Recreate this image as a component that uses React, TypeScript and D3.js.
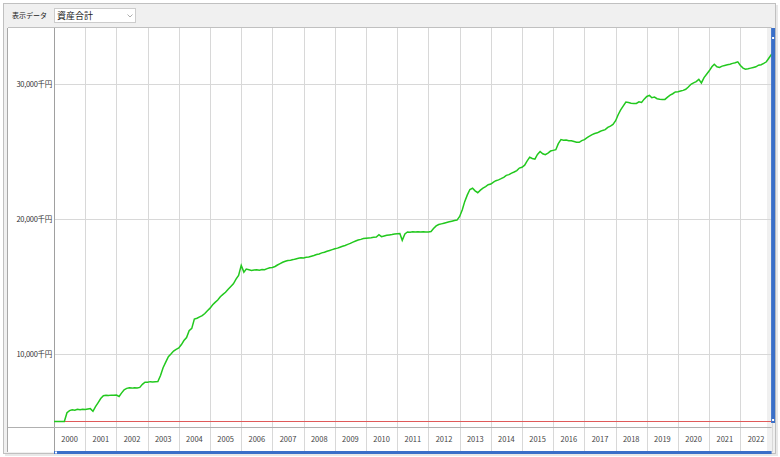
import * as d3 from "d3";
import React from "react";

// 年ラベル
const years = [
  "2000", "2001", "2002", "2003", "2004", "2005", "2006", "2007",
  "2008", "2009", "2010", "2011", "2012", "2013", "2014", "2015",
  "2016", "2017", "2018", "2019", "2020", "2021", "2022",
];

// Y軸の目盛り (千円)
const yTicks = [10000, 20000, 30000];

// 元本ライン (千円)
const principal = 5000;

// 月末の資産合計 (千円) 2000-01 ～ 2023-01
const assets = [
  5000, 5000, 5000, 5000, 5000, 5650, 5800, 5870, 5830, 5900, 5860, 5900, // 2000
  5880, 5920, 5950, 5750, 6100, 6400, 6700, 6900, 6940, 6920, 6950, 6940, // 2001
  6960, 6850, 7100, 7350, 7450, 7490, 7470, 7500, 7480, 7520, 7750, 7910, // 2002
  7900, 7950, 7920, 7940, 7950, 8400, 8980, 9400, 9800, 10000, 10220, 10350, // 2003
  10450, 10700, 11000, 11220, 11720, 11900, 12590, 12650, 12750, 12840, 13000, 13210, // 2004
  13400, 13650, 13830, 14000, 14250, 14420, 14580, 14800, 15000, 15200, 15550, 15820, // 2005
  16570, 16070, 16300, 16250, 16200, 16230, 16250, 16220, 16260, 16250, 16330, 16400, // 2006
  16420, 16490, 16600, 16700, 16800, 16880, 16940, 16960, 17000, 17050, 17100, 17140, // 2007
  17120, 17170, 17190, 17250, 17300, 17380, 17420, 17500, 17550, 17620, 17680, 17740, // 2008
  17800, 17850, 17920, 17990, 18050, 18130, 18200, 18300, 18380, 18450, 18500, 18560, // 2009
  18580, 18600, 18620, 18650, 18680, 18850, 18700, 18750, 18800, 18830, 18860, 18900, // 2010
  18920, 18930, 18430, 18900, 19050, 19030, 19060, 19040, 19070, 19050, 19060, 19040, // 2011
  19050, 19080, 19300, 19500, 19600, 19650, 19700, 19750, 19800, 19850, 19900, 19930, // 2012
  20200, 20700, 21300, 21800, 22200, 22290, 22100, 21960, 22150, 22300, 22410, 22550, // 2013
  22600, 22750, 22850, 22910, 23000, 23100, 23250, 23300, 23410, 23500, 23600, 23790, // 2014
  23850, 24000, 24300, 24600, 24500, 24450, 24800, 25020, 24850, 24780, 24900, 25050, // 2015
  25100, 25150, 25600, 25900, 25850, 25870, 25820, 25820, 25760, 25700, 25700, 25820, // 2016
  25900, 26050, 26150, 26270, 26350, 26400, 26500, 26580, 26640, 26800, 26900, 27020, // 2017
  27300, 27760, 28100, 28400, 28680, 28650, 28600, 28580, 28580, 28700, 28650, 28900, // 2018
  29100, 29180, 29000, 29050, 28930, 28900, 28880, 28880, 29050, 29200, 29300, 29430, // 2019
  29450, 29500, 29550, 29630, 29800, 30000, 30100, 30200, 30370, 30100, 30500, 30750, // 2020
  31000, 31300, 31490, 31300, 31250, 31350, 31400, 31450, 31490, 31550, 31600, 31670, // 2021
  31400, 31200, 31120, 31150, 31200, 31250, 31300, 31420, 31450, 31550, 31670, 31950, // 2022
  32240, // 2023-01
];

const FONT = "'Noto Sans CJK JP', 'Noto Sans', sans-serif";

export default function App() {
  const ref = React.useRef<SVGSVGElement>(null);

  React.useEffect(() => {
    if (!ref.current) return;
    const svg = d3.select(ref.current);
    svg.selectAll("*").remove();

    const W = 780;
    const H = 457;
    const left = 54;
    const right = 771.6;
    const top = 28;
    const plotBottom = 427;
    const bottom = 452;

    const months = d3.timeMonth.range(new Date(2000, 0, 1), new Date(2023, 1, 1));
    const data = months.map((d, i) => ({ date: d, value: assets[i] }));

    const x = d3
      .scaleTime()
      .domain([new Date(2000, 0, 1), new Date(2023, 0, 1)])
      .range([left, right]);

    const y = d3.scaleLinear().domain([10000, 30000]).range([354, 84.3]);

    // 背景
    svg.append("rect").attr("width", W).attr("height", H).attr("fill", "#ffffff");

    // ウィンドウの影
    svg.append("rect").attr("x", 5).attr("y", 5).attr("width", 773).attr("height", 451).attr("fill", "#e8e8e8");
    // ウィンドウ本体
    svg
      .append("rect")
      .attr("x", 3.5)
      .attr("y", 3.5)
      .attr("width", 772)
      .attr("height", 450)
      .attr("fill", "#f0f0f0")
      .attr("stroke", "#c0c0c0");

    // ツールバー
    svg
      .append("text")
      .attr("x", 12)
      .attr("y", 18)
      .attr("font-family", FONT)
      .attr("font-size", 7)
      .attr("fill", "#222")
      .text("表示データ");

    svg
      .append("rect")
      .attr("x", 54.5)
      .attr("y", 8.5)
      .attr("width", 81)
      .attr("height", 14)
      .attr("fill", "#ffffff")
      .attr("stroke", "#cccccc");
    svg
      .append("text")
      .attr("x", 57)
      .attr("y", 19)
      .attr("font-family", FONT)
      .attr("font-size", 9)
      .attr("fill", "#222")
      .text("資産合計");
    svg
      .append("path")
      .attr("d", "M127.5,14.5 L130,17 L132.5,14.5")
      .attr("fill", "none")
      .attr("stroke", "#999")
      .attr("stroke-width", 0.8);

    // チャート領域
    svg
      .append("rect")
      .attr("x", 8)
      .attr("y", top)
      .attr("width", 767 - 8)
      .attr("height", bottom - top)
      .attr("fill", "#ffffff");
    svg.append("line").attr("x1", 7.5).attr("x2", 7.5).attr("y1", top).attr("y2", bottom).attr("stroke", "#a8a8a8");
    svg.append("line").attr("x1", 8).attr("x2", right).attr("y1", top - 0.5).attr("y2", top - 0.5).attr("stroke", "#c0c0c0");

    // 縦グリッド (年区切り)
    const bounds = d3.range(years.length + 1).map((i) => new Date(2000 + i, 0, 1));
    svg
      .append("g")
      .selectAll("line")
      .data(bounds.slice(1))
      .enter()
      .append("line")
      .attr("x1", (d) => Math.round(x(d)) + 0.5)
      .attr("x2", (d) => Math.round(x(d)) + 0.5)
      .attr("y1", top)
      .attr("y2", bottom)
      .attr("stroke", "#d8d8d8");

    // 横グリッド
    svg
      .append("g")
      .selectAll("line")
      .data(yTicks)
      .enter()
      .append("line")
      .attr("x1", left)
      .attr("x2", right)
      .attr("y1", (d) => Math.round(y(d)) + 0.5)
      .attr("y2", (d) => Math.round(y(d)) + 0.5)
      .attr("stroke", "#d8d8d8");

    // Y軸ラベル
    svg
      .append("g")
      .selectAll("text")
      .data(yTicks)
      .enter()
      .append("text")
      .attr("x", 52)
      .attr("y", (d) => y(d) + 3)
      .attr("text-anchor", "end")
      .attr("font-family", FONT)
      .attr("font-size", 7.5)
      .attr("fill", "#333")
      .attr("letter-spacing", -0.3)
      .text((d) => `${d3.format(",")(d)}千円`);

    // 軸の区切り線
    svg.append("line").attr("x1", left + 0.5).attr("x2", left + 0.5).attr("y1", top).attr("y2", bottom).attr("stroke", "#a0a0a0");
    svg.append("line").attr("x1", 8).attr("x2", right).attr("y1", plotBottom + 0.5).attr("y2", plotBottom + 0.5).attr("stroke", "#b0b0b0");

    // 年ラベル
    svg
      .append("g")
      .selectAll("text")
      .data(years)
      .enter()
      .append("text")
      .attr("x", (d) => (x(new Date(+d, 0, 1)) + x(new Date(+d + 1, 0, 1))) / 2)
      .attr("y", 442)
      .attr("text-anchor", "middle")
      .attr("font-family", FONT)
      .attr("font-size", 7.5)
      .attr("fill", "#444")
      .text((d) => d);

    // 元本ライン
    svg
      .append("line")
      .attr("x1", left + 1)
      .attr("x2", right)
      .attr("y1", Math.round(y(principal)) + 0.5)
      .attr("y2", Math.round(y(principal)) + 0.5)
      .attr("stroke", "#e05a5a")
      .attr("stroke-width", 1);

    // 資産合計ライン
    const line = d3
      .line<{ date: Date; value: number }>()
      .x((d) => x(d.date))
      .y((d) => y(d.value));
    svg
      .append("path")
      .datum(data)
      .attr("d", line)
      .attr("fill", "none")
      .attr("stroke", "#22c81e")
      .attr("stroke-width", 1.5);

    // スクロールバー (右)
    svg.append("rect").attr("x", right - 0.5).attr("y", top).attr("width", 4).attr("height", 395).attr("fill", "#3a6fc8");
    svg.append("rect").attr("x", right + 0.5).attr("y", 37).attr("width", 2).attr("height", 2).attr("fill", "#ffffff");
    svg.append("rect").attr("x", right + 0.5).attr("y", 419).attr("width", 2).attr("height", 2).attr("fill", "#ffffff");
    // スクロールバー (下)
    svg.append("rect").attr("x", left).attr("y", 451).attr("width", right - left).attr("height", 3).attr("fill", "#3a6fc8");
    svg.append("rect").attr("x", left + 1).attr("y", 451.5).attr("width", 2).attr("height", 2).attr("fill", "#ffffff");
  }, []);

  return (
    <div style={{ position: "fixed", left: 0, top: 0 }}>
      <svg ref={ref} width={780} height={457} style={{ display: "block" }} />
    </div>
  );
}
